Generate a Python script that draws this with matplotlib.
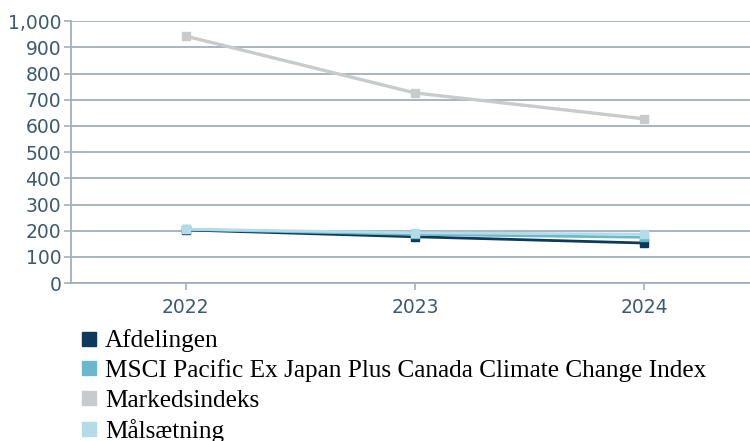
import matplotlib
matplotlib.use("Agg")
from matplotlib import pyplot as plt
from matplotlib.lines import Line2D
from matplotlib.ticker import FuncFormatter

years = [2022, 2023, 2024]
afdelingen = [203, 177, 153]
msci = [205, 186, 175]
markedsindeks = [943, 726, 627]
maalsaetning = [206, 192, 187]

labels = ["Afdelingen",
          "MSCI Pacific Ex Japan Plus Canada Climate Change Index",
          "Markedsindeks",
          "Målsætning"]
colors = ["#0d3a5a", "#6ab8cc", "#c8cbcb", "#b3dce8"]

plt.rcParams["font.family"] = "DejaVu Sans"

fig = plt.figure(figsize=(7.5, 4.41), dpi=100)
ax = fig.add_axes([0.0947, 0.358, 0.9053, 0.594])

grid_col = "#a3b0ba"
tick_col = "#3d5a6e"

ax.plot(years, markedsindeks, color=colors[2], lw=2.4, marker="s", ms=6, zorder=3)
ax.plot(years, afdelingen, color=colors[0], lw=2, marker="s", ms=6, zorder=4)
ax.plot(years, msci, color=colors[1], lw=2, marker="s", ms=6, zorder=5)
ax.plot(years, maalsaetning, color=colors[3], lw=2, marker="s", ms=6, zorder=6)

ax.set_ylim(0, 1000)
ax.set_yticks(range(0, 1001, 100))
ax.yaxis.set_major_formatter(FuncFormatter(lambda v, p: f"{int(v):,}"))
ax.set_xlim(2021.5, 2024.46)
ax.set_xticks(years)
ax.set_xticklabels([str(y) for y in years])

ax.grid(axis="y", color=grid_col, lw=1.3)
ax.set_axisbelow(True)
for s in ["top", "right"]:
    ax.spines[s].set_visible(False)
ax.spines["left"].set_color(grid_col)
ax.spines["bottom"].set_color(grid_col)
ax.spines["left"].set_linewidth(1.3)
ax.spines["bottom"].set_linewidth(1.3)
ax.tick_params(axis="both", colors=grid_col, labelcolor=tick_col, labelsize=13.5,
               length=5, width=1.2)
ax.tick_params(axis="x", pad=6)
ax.tick_params(axis="y", pad=2)

handles = [Line2D([], [], ls="none", marker="s", ms=10.5, color=c) for c in colors]
fig.legend(handles, labels, loc="upper left", bbox_to_anchor=(0.108, 0.253),
           frameon=False, handlelength=0.6, handletextpad=0.35, labelspacing=0.27,
           borderaxespad=0, borderpad=0,
           prop={"family": "Liberation Serif", "size": 18.2})

fig.savefig("out.png", dpi=100)
